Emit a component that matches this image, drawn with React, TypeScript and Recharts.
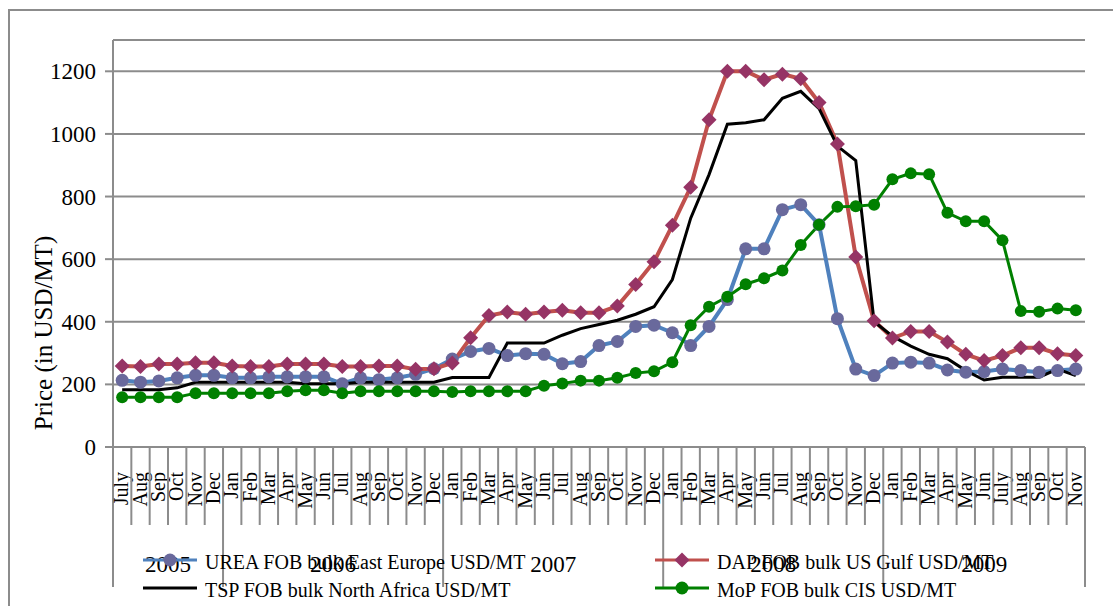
import React from 'react';
import { LineChart, Line, XAxis, YAxis, CartesianGrid, Legend } from 'recharts';

const MONTHS = [
  'July', 'Aug', 'Sep', 'Oct', 'Nov', 'Dec',
  'Jan', 'Feb', 'Mar', 'Apr', 'May', 'Jun', 'Jul', 'Aug', 'Sep', 'Oct', 'Nov', 'Dec',
  'Jan', 'Feb', 'Mar', 'Apr', 'May', 'Jun', 'Jul', 'Aug', 'Sep', 'Oct', 'Nov', 'Dec',
  'Jan', 'Feb', 'Mar', 'Apr', 'May', 'Jun', 'Jul', 'Aug', 'Sep', 'Oct', 'Nov', 'Dec',
  'Jan', 'Feb', 'Mar', 'Apr', 'May', 'Jun', 'July', 'Aug', 'Sep', 'Oct', 'Nov',
];
const YEARS = ['2005', '2006', '2007', '2008', '2009'];
const YEAR_LENGTHS = [6, 12, 12, 12, 11];

const UREA = [
  213, 207, 211, 221, 229, 229,
  221, 221, 224, 224, 224, 224, 202, 221, 215, 221, 232, 250,
  281, 305, 315, 292, 298, 296, 266, 273, 324, 337, 385, 389,
  365, 324, 385, 471, 633, 633, 758, 774, 710, 410, 249, 228,
  268, 271, 268, 246, 239, 241, 249, 244, 239, 244, 249,
];
const DAP = [
  259, 257, 265, 265, 269, 269,
  259, 257, 257, 265, 265, 265, 257, 257, 259, 259, 248, 250,
  268, 349, 420, 431, 424, 431, 437, 429, 429, 450, 519, 592,
  708, 830, 1045, 1200, 1200, 1173, 1191, 1176, 1100, 968, 607, 403,
  348, 369, 369, 335, 296, 276, 292, 317, 317, 298, 292,
];
const TSP = [
  183, 183, 183, 189, 207, 207,
  207, 207, 207, 207, 202, 202, 202, 207, 207, 207, 207, 207,
  222, 222, 222, 332, 332, 332, 357, 378, 391, 405, 424, 448,
  535, 731, 870, 1031, 1036, 1045, 1114, 1136, 1081, 961, 915, 400,
  354, 322, 296, 282, 244, 214, 223, 223, 223, 249, 228,
];
const MOP = [
  159, 159, 159, 159, 172, 172,
  172, 172, 172, 178, 181, 181, 172, 178, 178, 178, 178, 178,
  176, 178, 178, 178, 178, 196, 203, 212, 212, 221, 236, 242,
  271, 389, 448, 480, 520, 539, 564, 645, 710, 767, 769, 774,
  855, 874, 871, 748, 721, 721, 660, 434, 432, 442, 437,
];
const Y_TICKS = [0, 200, 400, 600, 800, 1000, 1200];

const NAMES = {
  urea: 'UREA FOB bulk East Europe USD/MT',
  dap: 'DAP FOB bulk US Gulf USD/MT',
  tsp: 'TSP FOB bulk North Africa USD/MT',
  mop: 'MoP FOB bulk CIS USD/MT',
};

const COLORS = {
  ureaLine: '#4F81BD',
  ureaDot: '#69699C',
  dapLine: '#C0504D',
  dapDot: '#963465',
  tsp: '#000000',
  mop: '#008000',
  grid: '#8C8C8C',
};

const data = MONTHS.map((m, i) => ({
  idx: i,
  month: m,
  urea: UREA[i],
  dap: DAP[i],
  tsp: TSP[i],
  mop: MOP[i],
}));

const N = MONTHS.length;
const CHART_W = 1113;
const CHART_H = 606;
const MARGIN = { top: 40, right: 28, left: 0, bottom: 0 };
const Y_AXIS_W = 113;
const X_AXIS_H = 159;
const PLOT_W = CHART_W - MARGIN.left - MARGIN.right - Y_AXIS_W;
const BAND = PLOT_W / N;
const FAMILY = 'Liberation Serif';
const FONT = '"Liberation Serif", "Times New Roman", serif';
const TXT = { fontFamily: FONT };

const YEAR_STARTS: number[] = [];
{
  let acc = 0;
  YEAR_LENGTHS.forEach((l) => {
    YEAR_STARTS.push(acc);
    acc += l;
  });
}

const XTick = (props: any) => {
  const { x, y, payload } = props;
  const i = Number(payload.value);
  const left = x - BAND / 2;
  const yi = YEAR_STARTS.indexOf(i);
  const isYearStart = yi >= 0;
  const els: any[] = [];
  els.push(
    <line key="l" x1={left} x2={left} y1={y} y2={y + (isYearStart ? 140 : 78)} stroke={COLORS.grid} strokeWidth={2} />
  );
  if (i === N - 1) {
    els.push(<line key="r" x1={x + BAND / 2} x2={x + BAND / 2} y1={y} y2={y + 140} stroke={COLORS.grid} strokeWidth={2} />);
  }
  const tx = x + 6;
  const ty = y + 25;
  els.push(
    <text key="t" x={tx} y={ty} transform={`rotate(-90, ${tx}, ${ty})`} textAnchor="end" fontSize={20} fontFamily={FAMILY} style={TXT} fill="#000">
      {MONTHS[i]}
    </text>
  );
  if (isYearStart) {
    const cx = left + (YEAR_LENGTHS[yi] * BAND) / 2;
    els.push(
      <text key="y" x={cx} y={y + 125} textAnchor="middle" fontSize={23} fontFamily={FAMILY} style={TXT} fill="#000">
        {YEARS[yi]}
      </text>
    );
  }
  return <g>{els}</g>;
};

const YTick = (props: any) => {
  const { x, y, payload } = props;
  return (
    <text x={x} y={y} dy={8} textAnchor="end" fontSize={23} fontFamily={FAMILY} style={TXT} fill="#000">
      {payload.value}
    </text>
  );
};

const UreaDot = (props: any) => {
  const { cx, cy, index } = props;
  if (cx == null || cy == null) return null;
  return <circle key={`u${index}`} cx={cx} cy={cy} r={6.5} fill={COLORS.ureaDot} stroke="none" />;
};
const DapDot = (props: any) => {
  const { cx, cy, index } = props;
  if (cx == null || cy == null) return null;
  const s = 7.5;
  return (
    <polygon
      key={`d${index}`}
      points={`${cx},${cy - s} ${cx + s},${cy} ${cx},${cy + s} ${cx - s},${cy}`}
      fill={COLORS.dapDot}
      stroke="none"
    />
  );
};
const MopDot = (props: any) => {
  const { cx, cy, index } = props;
  if (cx == null || cy == null) return null;
  return <circle key={`m${index}`} cx={cx} cy={cy} r={6} fill={COLORS.mop} stroke="none" />;
};

const LegendContent = () => {
  const row1 = 30;
  const row2 = 58;
  const items = [
    { x: 143, y: row1, key: 'urea' },
    { x: 655, y: row1, key: 'dap' },
    { x: 143, y: row2, key: 'tsp' },
    { x: 655, y: row2, key: 'mop' },
  ];
  return (
    <svg width={CHART_W} height={76} style={{ display: 'block', overflow: 'visible' }}>
      {items.map((it) => {
        const mx = it.x + 27;
        let line = COLORS.tsp;
        let marker: any = null;
        if (it.key === 'urea') {
          line = COLORS.ureaLine;
          marker = <circle cx={mx} cy={it.y} r={6.5} fill={COLORS.ureaDot} />;
        } else if (it.key === 'dap') {
          line = COLORS.dapLine;
          const s = 7.5;
          marker = <polygon points={`${mx},${it.y - s} ${mx + s},${it.y} ${mx},${it.y + s} ${mx - s},${it.y}`} fill={COLORS.dapDot} />;
        } else if (it.key === 'mop') {
          line = COLORS.mop;
          marker = <circle cx={mx} cy={it.y} r={6.5} fill={COLORS.mop} />;
        }
        return (
          <g key={it.key}>
            <line x1={it.x} x2={it.x + 54} y1={it.y} y2={it.y} stroke={line} strokeWidth={3} />
            {marker}
            <text x={it.x + 62} y={it.y + 9} fontSize={20} fontFamily={FAMILY} style={TXT} fill="#000">
              {(NAMES as any)[it.key]}
            </text>
          </g>
        );
      })}
    </svg>
  );
};

const YLabel = () => {
  const x = 52;
  const y = 333;
  return (
    <text x={x} y={y} transform={`rotate(-90, ${x}, ${y})`} textAnchor="middle" fontSize={25} fontFamily={FAMILY} style={TXT} fill="#000">
      Price (in  USD/MT)
    </text>
  );
};

export default function App() {
  return (
    <div style={{ position: 'absolute', left: 0, top: 0, width: CHART_W, height: CHART_H, overflow: 'hidden', background: '#fff', fontFamily: FONT }}>
      <div style={{ position: 'absolute', left: 8, top: 9, width: 1300, height: 800, border: '2px solid #8C8C8C' }} />
      <div style={{ position: 'absolute', left: 0, top: 0 }}>
        <LineChart width={CHART_W} height={CHART_H} data={data} margin={MARGIN} style={{ fontFamily: FONT }}>
          <CartesianGrid horizontal vertical={false} stroke={COLORS.grid} strokeWidth={2} />
          <XAxis
            dataKey="idx"
            type="category"
            interval={0}
            height={X_AXIS_H}
            padding={{ left: BAND / 2, right: BAND / 2 }}
            tickLine={false}
            tickSize={0}
            tickMargin={0}
            axisLine={{ stroke: COLORS.grid, strokeWidth: 2 }}
            tick={<XTick />}
          />
          <YAxis
            domain={[0, 1300]}
            ticks={Y_TICKS}
            interval={0}
            width={Y_AXIS_W}
            tickSize={8}
            tickMargin={9}
            tickLine={{ stroke: COLORS.grid, strokeWidth: 2 }}
            axisLine={{ stroke: COLORS.grid, strokeWidth: 2 }}
            tick={<YTick />}
            label={<YLabel />}
            allowDataOverflow
          />
          <Legend
            verticalAlign="middle"
            align="center"
            layout="horizontal"
            content={<LegendContent />}
            wrapperStyle={{ left: 0, top: 530, width: CHART_W, height: 76 }}
          />
          <Line dataKey="urea" name={NAMES.urea} type="linear" stroke={COLORS.ureaLine} strokeWidth={4} dot={<UreaDot />} activeDot={false} isAnimationActive={false} />
          <Line dataKey="dap" name={NAMES.dap} type="linear" stroke={COLORS.dapLine} strokeWidth={4} dot={<DapDot />} activeDot={false} isAnimationActive={false} />
          <Line dataKey="tsp" name={NAMES.tsp} type="linear" stroke={COLORS.tsp} strokeWidth={3} dot={false} activeDot={false} isAnimationActive={false} />
          <Line dataKey="mop" name={NAMES.mop} type="linear" stroke={COLORS.mop} strokeWidth={3} dot={<MopDot />} activeDot={false} isAnimationActive={false} />
        </LineChart>
      </div>
    </div>
  );
}
